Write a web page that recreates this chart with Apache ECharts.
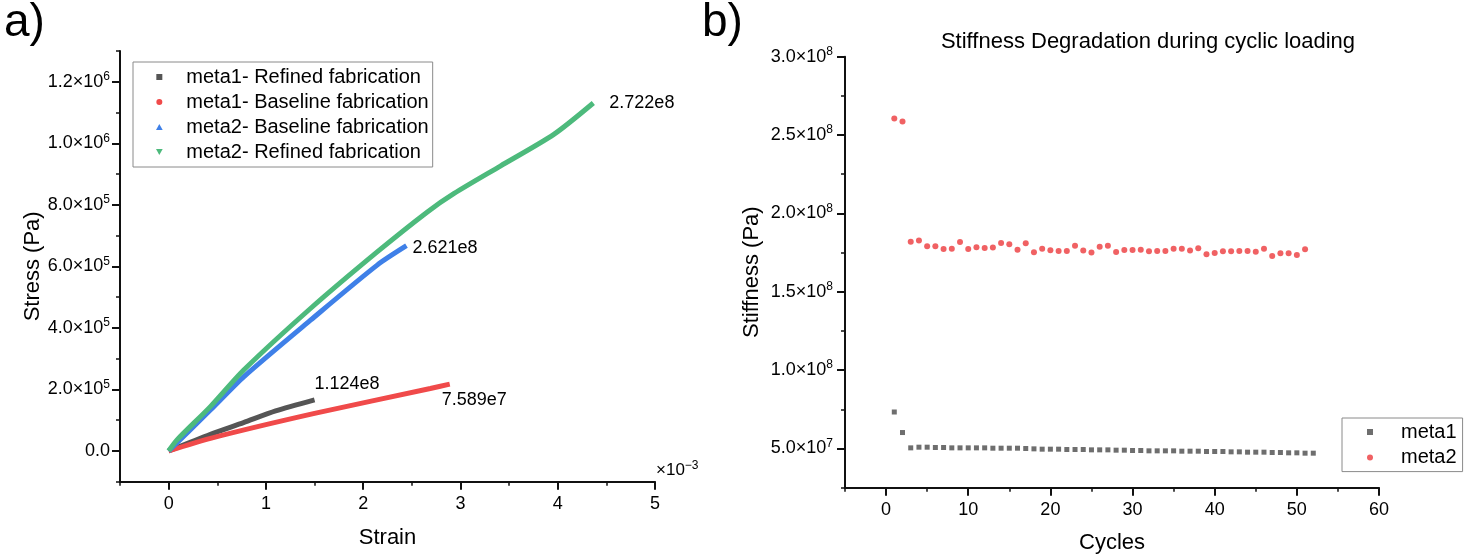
<!DOCTYPE html>
<html><head><meta charset="utf-8">
<script src="https://cdn.jsdelivr.net/npm/echarts@6/dist/echarts.min.js"></script>
<style>html,body{margin:0;padding:0;background:#fff}#c{width:1474px;height:554px}</style>
</head><body><div id="c"></div>
<script>
// ---------- panel a) stress-strain ----------
const namesA = ['meta1- Refined fabrication','meta1- Baseline fabrication','meta2- Baseline fabrication','meta2- Refined fabrication'];
const m1RefStrain  = [0, 0.00043, 0.00077, 0.0011, 0.0015];
const m1RefStress  = [0, 5.4e4, 9.2e4, 1.30e5, 1.66e5];
const m1BaseStrain = [0, 0.00043, 0.0015, 0.00269, 0.00289];
const m1BaseStress = [0, 4.1e4, 1.22e5, 2.03e5, 2.17e5];
const m2BaseStrain = [0, 0.000429, 0.000772, 0.001458, 0.002144, 0.002445];
const m2BaseStress = [0, 1.33e5, 2.41e5, 4.25e5, 6.04e5, 6.67e5];
const m2RefStrain  = [0, 0.000086, 0.000429, 0.000772, 0.001458, 0.002144, 0.00266, 0.002935, 0.00341, 0.00396, 0.004366];
const m2RefStress  = [0, 3.6e4, 1.44e5, 2.63e5, 4.63e5, 6.47e5, 7.77e5, 8.37e5, 9.26e5, 1.029e6, 1.131e6];
const slopeLabels  = ['1.124e8','7.589e7','2.621e8','2.722e8'];
const strainTicks  = [0, 0.001, 0.002, 0.003, 0.004, 0.005];
const stressTicks  = [0, 2e5, 4e5, 6e5, 8e5, 1e6, 1.2e6];

// ---------- panel b) stiffness vs cycles ----------
const namesB = ['meta1','meta2'];
const meta1Stiff = [7.33e7, 6.02e7,
  5.042e7,5.085e7,5.085e7,5.064e7,5.064e7,5.042e7,5.042e7,5.042e7,5.042e7,5.042e7,
  5.021e7,5.021e7,5.021e7,5.021e7,5.000e7,4.979e7,4.958e7,4.958e7,4.958e7,4.936e7,
  4.936e7,4.936e7,4.915e7,4.915e7,4.915e7,4.894e7,4.894e7,4.873e7,4.873e7,4.852e7,
  4.852e7,4.852e7,4.852e7,4.830e7,4.830e7,4.830e7,4.809e7,4.809e7,4.809e7,4.788e7,
  4.788e7,4.767e7,4.767e7,4.767e7,4.746e7,4.746e7,4.725e7,4.725e7,4.703e7,4.703e7];
const meta2Stiff = [2.606e8,2.587e8,1.820e8,1.828e8,1.790e8,1.790e8,1.773e8,1.775e8,1.818e8,1.773e8,
  1.784e8,1.780e8,1.782e8,1.811e8,1.803e8,1.769e8,1.809e8,1.752e8,1.775e8,1.765e8,
  1.761e8,1.761e8,1.794e8,1.763e8,1.750e8,1.788e8,1.794e8,1.754e8,1.767e8,1.767e8,
  1.769e8,1.758e8,1.761e8,1.761e8,1.775e8,1.775e8,1.763e8,1.778e8,1.739e8,1.748e8,
  1.758e8,1.758e8,1.761e8,1.761e8,1.756e8,1.775e8,1.729e8,1.746e8,1.746e8,1.735e8,1.771e8];
const cycleTicks = [0,10,20,30,40,50,60];
const stiffTicks = [5e7,1e8,1.5e8,2e8,2.5e8,3e8];

const FF = 'Liberation Sans, Arial, sans-serif';
const colorsA = ['#555555','#F04A4A','#3F80E8','#4DBA7C'];
const iconsA = ['path://M0,0L10,0L10,10L0,10Z','path://M5,0A5,5,0,1,1,5,10A5,5,0,1,1,5,0Z','path://M5,0L10,9L0,9Z','path://M0,0L10,0L5,9Z'];

function sci(v){
  if (Math.abs(v) < 1e-12) return '0.0';
  const e = Math.floor(Math.log10(Math.abs(v)) + 1e-9);
  const m = v / Math.pow(10, e);
  return '{m|' + m.toFixed(1) + '×10}{e|' + e + '}';
}
const richSci = { m:{fontSize:18,fontFamily:FF,color:'#000'}, e:{fontSize:12,fontFamily:FF,color:'#000',padding:[0,0,10,0]} };
const lineAx = {show:true, onZero:false, lineStyle:{color:'#111', width:2}};
const noLine = {show:false, onZero:false};

function pairs(xs, ys){ return xs.map((x,i)=>[x, ys[i]]); }
const seriesA = [[m1RefStrain,m1RefStress],[m1BaseStrain,m1BaseStress],[m2BaseStrain,m2BaseStress],[m2RefStrain,m2RefStress]];
const labelOffsets = [[-6,-16],[-14,16],[0,2],[10,0]];

const option = {
  animation:false,
  textStyle:{fontFamily:FF},
  grid:[
    {left:120, top:51, width:535, height:430.7, outerBoundsMode:'none', containLabel:false},
    {left:845, top:56.7, width:534, height:431, outerBoundsMode:'none', containLabel:false}
  ],
  title:{text:'Stiffness Degradation during cyclic loading', left:1143, top:26, textAlign:'center',
    textStyle:{fontSize:22, fontWeight:'normal', color:'#000', fontFamily:FF}},
  graphic:[
    {type:'text', left:4, top:0, style:{text:'a)', fontSize:46, fontFamily:FF, fill:'#000'}},
    {type:'text', left:702, top:0, style:{text:'b)', fontSize:46, fontFamily:FF, fill:'#000'}},
    {type:'text', left:656, top:460, style:{text:'{m|×10}{e|−3}', rich:{m:{fontSize:17,fontFamily:FF,fill:'#000'}, e:{fontSize:12,fontFamily:FF,fill:'#000',padding:[0,0,9,0]}}}}
  ],
  legend:[
    {orient:'vertical', left:133, top:62, padding:[5,4,5,23], itemWidth:44, itemHeight:6, itemGap:5,
     borderColor:'#8a8a8a', borderWidth:1, backgroundColor:'#fff',
     textStyle:{fontSize:20, lineHeight:20, color:'#000', fontFamily:FF},
     data:namesA.map((n,i)=>({name:n, icon:iconsA[i]}))},
    {orient:'vertical', left:1342, top:418, padding:[4,6,4,25], itemWidth:52, itemHeight:6, itemGap:5.6,
     borderColor:'#8a8a8a', borderWidth:1, backgroundColor:'#fff',
     textStyle:{fontSize:20, lineHeight:20, color:'#000', fontFamily:FF},
     data:[{name:namesB[0], icon:iconsA[0]},{name:namesB[1], icon:iconsA[1]}]}
  ],
  xAxis:[
    {type:'value', gridIndex:0, min:-0.0005, max:0.005, interval:0.0005, position:'bottom',
     axisLine:lineAx, splitLine:{show:false},
     axisTick:{show:true, customValues:strainTicks, length:8, lineStyle:{color:'#111', width:2}},
     axisLabel:{customValues:strainTicks, formatter:v=>String(Math.round(v*1000)), fontSize:18, color:'#000', margin:13},
     name:'Strain', nameLocation:'middle', nameGap:45, nameTextStyle:{fontSize:22, color:'#000'}},
    {type:'value', gridIndex:0, min:-0.0005, max:0.005, interval:0.0005, position:'bottom',
     axisLine:noLine, splitLine:{show:false}, axisLabel:{show:false},
     axisTick:{show:true, length:4, lineStyle:{color:'#111', width:1.5}}},
    {type:'value', gridIndex:1, min:-5, max:60, interval:5, position:'bottom',
     axisLine:lineAx, splitLine:{show:false},
     axisTick:{show:true, customValues:cycleTicks, length:8, lineStyle:{color:'#111', width:2}},
     axisLabel:{customValues:cycleTicks, fontSize:18, color:'#000', margin:13},
     name:'Cycles', nameLocation:'middle', nameGap:44, nameTextStyle:{fontSize:22, color:'#000'}},
    {type:'value', gridIndex:1, min:-5, max:60, interval:5, position:'bottom',
     axisLine:noLine, splitLine:{show:false}, axisLabel:{show:false},
     axisTick:{show:true, length:4, lineStyle:{color:'#111', width:1.5}}}
  ],
  yAxis:[
    {type:'value', gridIndex:0, min:-1e5, max:1.3e6, interval:1e5, position:'left',
     axisLine:lineAx, splitLine:{show:false},
     axisTick:{show:true, customValues:stressTicks, length:8, lineStyle:{color:'#111', width:2}},
     axisLabel:{customValues:stressTicks, formatter:sci, rich:richSci, fontSize:18, color:'#000', margin:10},
     name:'Stress (Pa)', nameLocation:'middle', nameGap:69, nameTextStyle:{fontSize:22, color:'#000'}},
    {type:'value', gridIndex:0, min:-1e5, max:1.3e6, interval:1e5, position:'left',
     axisLine:noLine, splitLine:{show:false}, axisLabel:{show:false},
     axisTick:{show:true, length:4, lineStyle:{color:'#111', width:1.5}}},
    {type:'value', gridIndex:1, min:2.5e7, max:3e8, interval:2.5e7, position:'left',
     axisLine:lineAx, splitLine:{show:false},
     axisTick:{show:true, customValues:stiffTicks, length:8, lineStyle:{color:'#111', width:2}},
     axisLabel:{customValues:stiffTicks, formatter:sci, rich:richSci, fontSize:18, color:'#000', margin:12},
     name:'Stiffness (Pa)', nameLocation:'middle', nameGap:82, nameTextStyle:{fontSize:22, color:'#000'}},
    {type:'value', gridIndex:1, min:2.5e7, max:3e8, interval:2.5e7, position:'left',
     axisLine:noLine, splitLine:{show:false}, axisLabel:{show:false},
     axisTick:{show:true, length:4, lineStyle:{color:'#111', width:1.5}}}
  ],
  series:[
    ...seriesA.map((s,i)=>({
      name:namesA[i], type:'line', xAxisIndex:0, yAxisIndex:0,
      data:pairs(s[0], s[1]), showSymbol:false, symbol:'none', smooth:0.25,
      color:colorsA[i], lineStyle:{width:5, color:colorsA[i]}, itemStyle:{color:colorsA[i]},
      endLabel:{show:true, formatter:slopeLabels[i], fontSize:18, color:'#000', fontFamily:FF, distance:6, offset:labelOffsets[i]}
    })),
    {name:namesB[0], type:'scatter', xAxisIndex:2, yAxisIndex:2,
     data:meta1Stiff.map((v,i)=>[i+1, v]), symbol:'rect', symbolSize:5, itemStyle:{color:'#4a4a4a'}},
    {name:namesB[1], type:'scatter', xAxisIndex:2, yAxisIndex:2,
     data:meta2Stiff.map((v,i)=>[i+1, v]), symbol:'circle', symbolSize:6, itemStyle:{color:'#EC3A3C'}}
  ]
};
const chart = echarts.init(document.getElementById('c'), null, {renderer:'canvas'});
chart.setOption(option);
</script></body></html>
